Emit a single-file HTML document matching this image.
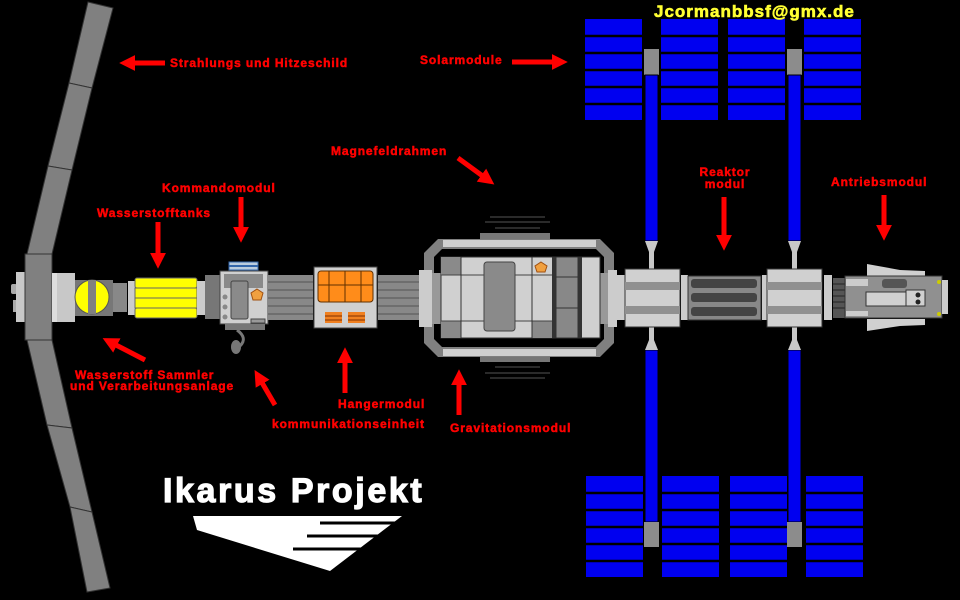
<!DOCTYPE html>
<html><head><meta charset="utf-8"><style>
html,body{margin:0;padding:0;background:#000;}
svg{display:block}
.l{font-family:"Liberation Sans",sans-serif;font-weight:bold;font-size:12px;letter-spacing:0.9px;fill:#f00;stroke:#f00;stroke-width:0.5}
</style></head><body>
<svg width="960" height="600" viewBox="0 0 960 600" xmlns="http://www.w3.org/2000/svg">
<rect width="960" height="600" fill="#000"/>
<defs>
<g id="col">
<rect x="0" y="0" width="57" height="101" fill="#0000f0"/>
<g stroke="#000" stroke-width="2.5"><line x1="0" y1="17" x2="57" y2="17"/><line x1="0" y1="34" x2="57" y2="34"/><line x1="0" y1="51" x2="57" y2="51"/><line x1="0" y1="68" x2="57" y2="68"/><line x1="0" y1="85" x2="57" y2="85"/></g>
</g>
<marker id="ah" viewBox="0 0 10 10" refX="2" refY="5" markerWidth="3.2" markerHeight="3.6" orient="auto"><path d="M0,0 L10,5 L0,10 z" fill="#f00"/></marker>
</defs>
<use href="#col" x="585" y="19"/><use href="#col" x="661" y="19"/><use href="#col" x="728" y="19"/><use href="#col" x="804" y="19"/>
<use href="#col" x="586" y="476"/><use href="#col" x="662" y="476"/><use href="#col" x="730" y="476"/><use href="#col" x="806" y="476"/>
<g>
<rect x="644" y="49" width="15" height="26" fill="#8c8c8c"/><rect x="645" y="75" width="13" height="166" fill="#0000f0" stroke="#000"/>
<rect x="787" y="49" width="15" height="26" fill="#8c8c8c"/><rect x="788" y="75" width="13" height="166" fill="#0000f0" stroke="#000"/>
<rect x="645" y="350" width="13" height="172" fill="#0000f0" stroke="#000"/><rect x="644" y="522" width="15" height="25" fill="#8c8c8c"/>
<rect x="788" y="350" width="13" height="172" fill="#0000f0" stroke="#000"/><rect x="787" y="522" width="15" height="25" fill="#8c8c8c"/>
<g fill="#c8c8c8">
<path d="M645,241 H658 L654,252 V269 H649 V252 Z"/><path d="M788,241 H801 L797,252 V269 H792 V252 Z"/>
<path d="M645,350 H658 L654,340 V327 H649 V340 Z"/><path d="M788,350 H801 L797,340 V327 H792 V340 Z"/>
</g>
</g>
<g fill="#808080" stroke="#333" stroke-width="1">
<polygon points="88,2 113,8 92,88 69,83"/>
<polygon points="69,83 92,88 72,170 48,166"/>
<polygon points="48,166 72,170 52,254 27,254"/>
<polygon points="27,340 52,340 72,428 47,425"/>
<polygon points="47,425 72,428 92,512 70,507"/>
<polygon points="70,507 92,512 110,588 87,592"/>
</g>
<rect x="11" y="284" width="6" height="10" rx="2" fill="#aaa"/><rect x="13" y="300" width="5" height="12" fill="#aaa"/>
<rect x="16" y="272" width="10" height="50" fill="#c8c8c8"/>
<rect x="25" y="254" width="27" height="86" fill="#808080" stroke="#333"/>
<rect x="52" y="273" width="5" height="49" fill="#ddd"/>
<rect x="57" y="273" width="18" height="49" fill="#c8c8c8"/>
<rect x="75" y="280" width="38" height="36" fill="#777"/>
<circle cx="92" cy="297" r="17" fill="#ffff00" stroke="#555"/>
<rect x="88" y="280" width="8" height="34" fill="#808080"/>
<rect x="113" y="283" width="14" height="29" fill="#888"/>
<rect x="128" y="281" width="7" height="34" fill="#ccc"/>
<g fill="#ffff00" stroke="#666"><rect x="135" y="278" width="62" height="10" rx="2"/><rect x="135" y="288" width="62" height="10"/><rect x="135" y="298" width="62" height="10"/><rect x="135" y="308" width="62" height="10" rx="2"/></g>
<rect x="197" y="281" width="8" height="34" fill="#ccc"/>
<rect x="205" y="275" width="15" height="44" fill="#777"/>
<rect x="229" y="262" width="29" height="8" fill="#bcd" stroke="#36a"/><line x1="229" y1="266" x2="258" y2="266" stroke="#36a" stroke-width="2"/>
<rect x="220" y="271" width="48" height="53" fill="#d0d0d0" stroke="#444"/>
<rect x="224" y="274" width="39" height="14" fill="#8a8a8a"/>
<rect x="231" y="281" width="17" height="38" rx="2" fill="#8a8a8a" stroke="#444"/>
<rect x="225" y="324" width="40" height="6" fill="#777"/>
<g fill="#888"><circle cx="225" cy="297" r="2.5"/><circle cx="225" cy="307" r="2.5"/><circle cx="225" cy="317" r="2.5"/></g>
<polygon points="257,289 263,293 261,300 253,300 251,293" fill="#f0a040" stroke="#a05010"/>
<rect x="251" y="319" width="14" height="4" fill="#999" stroke="#444"/>
<ellipse cx="236" cy="347" rx="5" ry="7" fill="#777"/><path d="M237,330 Q248,338 240,346" stroke="#777" stroke-width="3" fill="none"/>
<g>
<rect x="268" y="275" width="45" height="45" fill="#888"/>
<g stroke="#555"><line x1="268" y1="282" x2="313" y2="282"/><line x1="268" y1="290" x2="313" y2="290"/><line x1="268" y1="298" x2="313" y2="298"/><line x1="268" y1="306" x2="313" y2="306"/><line x1="268" y1="314" x2="313" y2="314"/></g>
<rect x="378" y="275" width="42" height="45" fill="#888"/>
<g stroke="#555"><line x1="378" y1="282" x2="420" y2="282"/><line x1="378" y1="290" x2="420" y2="290"/><line x1="378" y1="298" x2="420" y2="298"/><line x1="378" y1="306" x2="420" y2="306"/><line x1="378" y1="314" x2="420" y2="314"/></g>
</g>
<rect x="314" y="267" width="63" height="61" fill="#d0d0d0" stroke="#444"/>
<rect x="318" y="271" width="55" height="31" rx="3" fill="#ff8c1a" stroke="#603000"/>
<g stroke="#603000"><line x1="329" y1="271" x2="329" y2="302"/><line x1="345" y1="271" x2="345" y2="302"/><line x1="361" y1="271" x2="361" y2="302"/><line x1="318" y1="285" x2="373" y2="285"/></g>
<rect x="325" y="312" width="17" height="11" fill="#f08020"/><rect x="348" y="312" width="17" height="11" fill="#f08020"/>
<g stroke="#803000"><line x1="325" y1="316" x2="342" y2="316"/><line x1="325" y1="320" x2="342" y2="320"/><line x1="348" y1="316" x2="365" y2="316"/><line x1="348" y1="320" x2="365" y2="320"/></g>
<g stroke="#555" stroke-width="1">
<line x1="490" y1="217" x2="545" y2="217"/><line x1="485" y1="222" x2="550" y2="222"/><line x1="495" y1="228" x2="540" y2="228"/>
<line x1="490" y1="378" x2="545" y2="378"/><line x1="485" y1="373" x2="550" y2="373"/><line x1="495" y1="367" x2="540" y2="367"/>
</g>
<rect x="480" y="233" width="70" height="6" fill="#777"/><rect x="480" y="356" width="70" height="6" fill="#777"/>
<polygon points="438,239 600,239 614,253 614,343 600,357 438,357 424,343 424,253" fill="#808080"/>
<polygon points="442,249 596,249 604,257 604,339 596,347 442,347 434,339 434,257" fill="#000"/>
<rect x="443" y="240" width="153" height="7" fill="#d0d0d0"/>
<rect x="443" y="349" width="153" height="7" fill="#d0d0d0"/>
<rect x="419" y="270" width="13" height="57" fill="#ccc"/>
<rect x="432" y="273" width="9" height="51" fill="#999"/>
<rect x="600" y="273" width="8" height="51" fill="#999"/>
<rect x="608" y="270" width="9" height="57" fill="#ccc"/>
<rect x="441" y="257" width="159" height="81" fill="#d0d0d0" stroke="#333"/>
<rect x="441" y="257" width="20" height="18" fill="#8a8a8a"/><rect x="441" y="321" width="20" height="17" fill="#8a8a8a"/>
<rect x="532" y="321" width="20" height="17" fill="#8a8a8a"/>
<line x1="441" y1="275" x2="552" y2="275" stroke="#444"/><line x1="441" y1="321" x2="552" y2="321" stroke="#444"/>
<line x1="461" y1="257" x2="461" y2="338" stroke="#333"/><line x1="532" y1="257" x2="532" y2="338" stroke="#333"/>
<rect x="484" y="262" width="31" height="69" rx="3" fill="#8a8a8a" stroke="#444"/>
<rect x="552" y="257" width="4" height="81" fill="#333"/>
<rect x="556" y="257" width="22" height="81" fill="#888" stroke="#333"/>
<line x1="556" y1="277" x2="578" y2="277" stroke="#333"/><line x1="556" y1="308" x2="578" y2="308" stroke="#333"/>
<rect x="578" y="257" width="4" height="81" fill="#333"/>
<polygon points="541,262 547,266 545,272 537,272 535,266" fill="#f0a040" stroke="#a05010"/>
<rect x="617" y="275" width="8" height="45" fill="#ccc"/>
<g id="node"><rect x="625" y="269" width="55" height="58" fill="#d0d0d0" stroke="#333"/><rect x="625" y="282" width="55" height="8" fill="#909090"/><rect x="625" y="306" width="55" height="8" fill="#909090"/></g>
<rect x="681" y="275" width="7" height="45" fill="#ccc"/>
<rect x="688" y="276" width="73" height="44" fill="#888" stroke="#333"/>
<g fill="#444"><rect x="691" y="279" width="66" height="9" rx="3"/><rect x="691" y="293" width="66" height="9" rx="3"/><rect x="691" y="307" width="66" height="9" rx="3"/></g>
<rect x="762" y="275" width="5" height="45" fill="#ccc"/>
<use href="#node" x="142"/>
<rect x="824" y="275" width="8" height="45" fill="#ccc"/>
<rect x="833" y="278" width="12" height="40" fill="#555"/>
<g stroke="#222"><line x1="833" y1="284" x2="845" y2="284"/><line x1="833" y1="290" x2="845" y2="290"/><line x1="833" y1="296" x2="845" y2="296"/><line x1="833" y1="302" x2="845" y2="302"/><line x1="833" y1="308" x2="845" y2="308"/></g>
<polygon points="867,264 900,270 925,271 925,277 867,277" fill="#d0d0d0"/>
<polygon points="867,331 900,326 925,325 925,319 867,319" fill="#d0d0d0"/>
<rect x="845" y="276" width="97" height="42" fill="#909090" stroke="#333"/>
<rect x="846" y="279" width="22" height="7" fill="#ccc"/><rect x="846" y="311" width="22" height="5" fill="#ccc"/>
<rect x="866" y="292" width="40" height="14" fill="#d0d0d0" stroke="#333"/>
<rect x="906" y="290" width="19" height="16" fill="#d0d0d0" stroke="#333"/>
<circle cx="918" cy="295" r="2.5" fill="#222"/><circle cx="918" cy="302" r="2.5" fill="#222"/>
<rect x="882" y="279" width="25" height="9" rx="3" fill="#555"/>
<rect x="942" y="280" width="6" height="34" fill="#ccc"/>
<circle cx="939" cy="282" r="2" fill="#cc0"/><circle cx="939" cy="314" r="2" fill="#cc0"/>
<g stroke="#f00" stroke-width="5" marker-end="url(#ah)">
<line x1="165" y1="63" x2="132" y2="63"/>
<line x1="512" y1="62" x2="555" y2="62"/>
<line x1="458" y1="158" x2="484" y2="177"/>
<line x1="241" y1="197" x2="241" y2="230"/>
<line x1="158" y1="222" x2="158" y2="256"/>
<line x1="724" y1="197" x2="724" y2="238"/>
<line x1="884" y1="195" x2="884" y2="228"/>
<line x1="145" y1="360" x2="114" y2="344"/>
<line x1="275" y1="405" x2="261" y2="381"/>
<line x1="345" y1="393" x2="345" y2="360"/>
<line x1="459" y1="415" x2="459" y2="382"/>
</g>
<text class="l" x="170" y="67">Strahlungs und Hitzeschild</text>
<text class="l" x="420" y="64">Solarmodule</text>
<text class="l" x="331" y="155">Magnefeldrahmen</text>
<text class="l" x="162" y="192">Kommandomodul</text>
<text class="l" x="97" y="217">Wasserstofftanks</text>
<text class="l" x="725" y="176" text-anchor="middle">Reaktor</text>
<text class="l" x="725" y="188" text-anchor="middle">modul</text>
<text class="l" x="831" y="186">Antriebsmodul</text>
<text class="l" x="75" y="379">Wasserstoff Sammler</text>
<text class="l" x="70" y="390">und Verarbeitungsanlage</text>
<text class="l" x="338" y="408">Hangermodul</text>
<text class="l" x="272" y="428">kommunikationseinheit</text>
<text class="l" x="450" y="432">Gravitationsmodul</text>
<text x="654" y="17" font-family="Liberation Sans,sans-serif" font-weight="bold" font-size="17" letter-spacing="1" stroke="#ffff33" stroke-width="0.6" fill="#ffff33">Jcormanbbsf@gmx.de</text>
<text x="163" y="502" font-family="Liberation Sans,sans-serif" font-weight="bold" font-size="34" letter-spacing="2.6" stroke="#fff" stroke-width="1.2" fill="#fff">Ikarus Projekt</text>
<polygon points="193,516 402,516 330,571 197,530" fill="#fff"/>
<g stroke="#000" stroke-width="3"><line x1="320" y1="523" x2="398" y2="523"/><line x1="307" y1="536" x2="385" y2="536"/><line x1="293" y1="549" x2="370" y2="549"/></g>
</svg>
</body></html>
